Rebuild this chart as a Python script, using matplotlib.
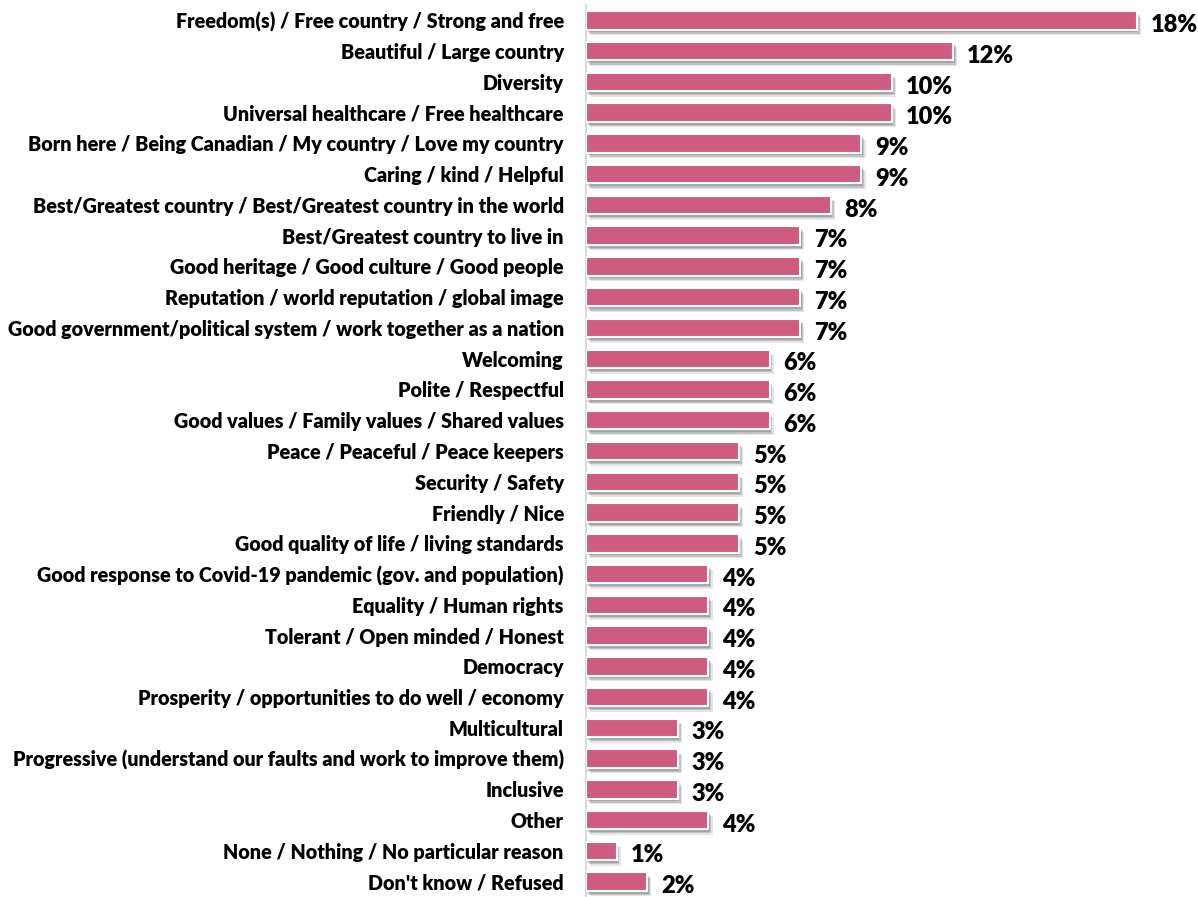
import matplotlib.pyplot as plt
import matplotlib.patheffects as pe

plt.rcParams['font.family'] = ['Lato', 'DejaVu Sans']

labels = [
    "Freedom(s) / Free country / Strong and free",
    "Beautiful / Large country",
    "Diversity",
    "Universal healthcare / Free healthcare",
    "Born here / Being Canadian / My country / Love my country",
    "Caring / kind / Helpful",
    "Best/Greatest country / Best/Greatest country in the world",
    "Best/Greatest country to live in",
    "Good heritage / Good culture / Good people",
    "Reputation / world reputation / global image",
    "Good government/political system / work together as a nation",
    "Welcoming",
    "Polite / Respectful",
    "Good values / Family values / Shared values",
    "Peace / Peaceful / Peace keepers",
    "Security / Safety",
    "Friendly / Nice",
    "Good quality of life / living standards",
    "Good response to Covid-19 pandemic (gov. and population)",
    "Equality / Human rights",
    "Tolerant / Open minded / Honest",
    "Democracy",
    "Prosperity / opportunities to do well / economy",
    "Multicultural",
    "Progressive (understand our faults and work to improve them)",
    "Inclusive",
    "Other",
    "None / Nothing / No particular reason",
    "Don't know / Refused",
]
values = [18, 12, 10, 10, 9, 9, 8, 7, 7, 7, 7, 6, 6, 6, 5, 5, 5, 5,
          4, 4, 4, 4, 4, 3, 3, 3, 4, 1, 2]

fig = plt.figure(figsize=(11.98, 8.97), dpi=100)
ax = fig.add_axes([586 / 1198, 0.0, 612 / 1198, 0.9944])

pos = list(range(len(labels)))
bars = ax.barh(pos, values, height=0.6, color='#CE5C7E',
               edgecolor='white', linewidth=1.5, zorder=3)

# soft drop shadow under each bar
shadow = [
    pe.SimplePatchShadow(offset=(3, -4), shadow_rgbFace='#000000', alpha=0.10),
    pe.SimplePatchShadow(offset=(2, -3), shadow_rgbFace='#000000', alpha=0.15),
    pe.SimplePatchShadow(offset=(1, -2), shadow_rgbFace='#000000', alpha=0.15),
    pe.Normal(),
]
for b in bars:
    b.set_path_effects(shadow)

for p, v in zip(pos, values):
    ax.text(v + 0.45, p + 0.15, f"{v}%", va='center', ha='left',
            fontsize=17, fontweight='heavy', color='black', clip_on=False)

ax.set_xlim(0, 20)
ax.set_ylim(len(labels) - 0.5, -0.5)
ax.set_yticks(pos)
ax.set_yticklabels(labels, fontsize=14.2, fontweight='heavy')
ax.tick_params(axis='y', length=0, pad=16)
ax.set_xticks([])

for s in ['top', 'right', 'bottom']:
    ax.spines[s].set_visible(False)
ax.spines['left'].set_color('#D9D9D9')
ax.spines['left'].set_linewidth(1.5)

fig.savefig('out.png', dpi=100)
